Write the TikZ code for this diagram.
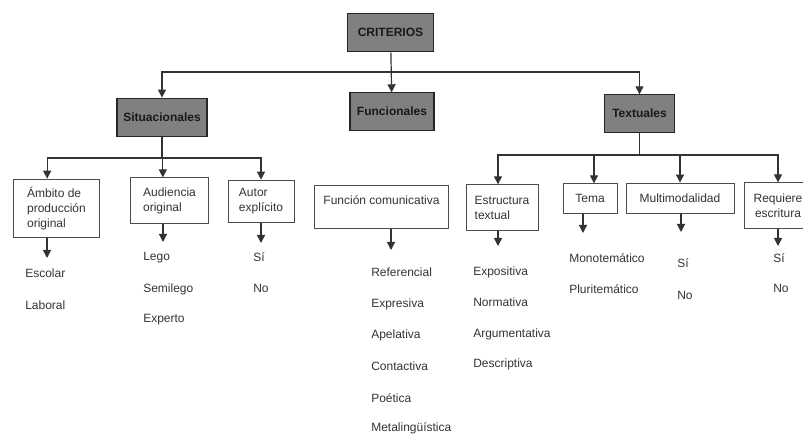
\documentclass[tikz,border=0pt]{standalone}
\usepackage{fontspec}
\setmainfont{Liberation Sans}
\usepackage{tikz}
\usetikzlibrary{arrows.meta}

\begin{document}
\begin{tikzpicture}[x=0.75pt, y=-0.75pt, >={Triangle[length=6pt, width=6pt]},
    header/.style={draw=black!85, fill=black!50, line width=0.8pt, font=\fontsize{9}{11}\selectfont\bfseries, text=black!90},
    subbox/.style={draw=black!70, fill=white, line width=0.7pt, font=\fontsize{9}{11.25}\selectfont, text=black!80},
    leaf/.style={anchor=west, inner sep=0pt, font=\fontsize{9}{11}\selectfont, text=black!80},
    conn/.style={draw=black!80, line width=0.9pt},
    arr/.style={conn, ->}]

    % page frame, 803 x 434 px
    \useasboundingbox (0,0) rectangle (803,434);
    \clip (0,0) rectangle (803,434);

    % Root and the three groups of criteria
    \node[header, minimum width=65pt, minimum height=29pt] (crit) at (390.5,32.5) {CRITERIOS};
    \node[header, minimum width=67.5pt, minimum height=29pt] (sit) at (162,117.5) {Situacionales};
    \node[header, minimum width=63pt, minimum height=28pt] (func) at (392,111.5) {Funcionales};
    \node[header, minimum width=53pt, minimum height=28pt] (text) at (639.5,113.5) {Textuales};

    \coordinate (cbar) at (390.5,72);
    \draw[arr] (crit) -- (func);
    \draw[arr] (cbar) -| (sit);
    \draw[arr] (cbar) -| (text);

    % Situacionales
    \node[subbox, align=left, minimum width=65pt, minimum height=44pt] (amb) at (56.5,208.5) {Ámbito de\\producción\\original};
    \node[subbox, align=left, minimum width=58pt, minimum height=34pt] (aud) at (169.5,200.5) {Audiencia\\original};
    \node[subbox, align=left, minimum width=49.5pt, minimum height=32pt] (aut) at (261,201.5) {Autor\\explícito};

    \coordinate (sbar) at (162,158);
    \draw[conn] (sit) -- (sbar);
    \draw[arr] (sbar) -| ([xshift=-7pt]amb.north);
    \draw[arr] (sbar) -| ([xshift=-5pt]aud.north);
    \draw[arr] (sbar) -| (aut.north);

    % Funcionales
    \node[subbox, anchor=north, minimum width=101pt, inner ysep=0pt, text height=14pt, text depth=18pt] (fun) at (381.5,185) {Función comunicativa};

    % Textuales
    \node[subbox, align=left, minimum width=54pt, minimum height=34pt] (est) at (502,207.5) {Estructura\\textual};
    \node[subbox, minimum width=40.5pt, minimum height=22pt] (tema) at (590,198.5) {Tema};
    \node[subbox, minimum width=81pt, minimum height=22.5pt] (mult) at (680,198) {Multimodalidad};
    \node[subbox, align=center, minimum width=51pt, minimum height=34pt] (req) at (778,205.5) {Requiere\\escritura};

    \coordinate (tbar) at (639.5,155);
    \draw[conn] (text) -- (tbar);
    \draw[arr] (tbar) -| ([xshift=-3pt]est.north);
    \draw[arr] (tbar) -| ([xshift=3pt]tema.north);
    \draw[arr] (tbar) -| (mult.north);
    \draw[arr] (tbar) -| (req.north);

    % arrows down to the values
    \coordinate (ambtip) at (47,258);
    \coordinate (audtip) at (163,242);
    \coordinate (auttip) at (261,243);
    \coordinate (funtip) at (391,250);
    \coordinate (esttip) at (498,246);
    \coordinate (tematip) at (583,233);
    \coordinate (multtip) at (681,232);
    \coordinate (reqtip) at (778,246);
    \draw[arr] (amb.south -| ambtip) -- (ambtip);
    \draw[arr] (aud.south -| audtip) -- (audtip);
    \draw[arr] (aut.south -| auttip) -- (auttip);
    \draw[arr] (fun.south -| funtip) -- (funtip);
    \draw[arr] (est.south -| esttip) -- (esttip);
    \draw[arr] (tema.south -| tematip) -- (tematip);
    \draw[arr] (mult.south -| multtip) -- (multtip);
    \draw[arr] (req.south -| reqtip) -- (reqtip);

    % values
    \node[leaf] (esc) at (25,273) {Escolar};
    \node[leaf] (lab) at (25,305) {Laboral};

    \node[leaf] (lego) at (143,258) {Lego};
    \node[leaf] (semi) at (143,289) {Semilego};
    \node[leaf] (expe) at (143,320) {Experto};

    \node[leaf] (sia) at (253,257) {Sí};
    \node[leaf] (noa) at (253,288) {No};

    \node[leaf] (refe) at (371,272) {Referencial};
    \node[leaf] (expr) at (371,304) {Expresiva};
    \node[leaf] (apel) at (371,335) {Apelativa};
    \node[leaf] (cont) at (371,366) {Contactiva};
    \node[leaf] (poet) at (371,398) {Poética};
    \node[leaf] (meta) at (371,428) {Metalingüística};

    \node[leaf] (expo) at (473,272) {Expositiva};
    \node[leaf] (norm) at (473,302) {Normativa};
    \node[leaf] (argu) at (473,334) {Argumentativa};
    \node[leaf] (desc) at (473,364) {Descriptiva};

    \node[leaf] (mono) at (569,258) {Monotemático};
    \node[leaf] (plur) at (569,289) {Pluritemático};

    \node[leaf] (sib) at (677,263) {Sí};
    \node[leaf] (nob) at (677,295) {No};

    \node[leaf] (sic) at (773,258) {Sí};
    \node[leaf] (noc) at (773,288) {No};

\end{tikzpicture}
\end{document}
